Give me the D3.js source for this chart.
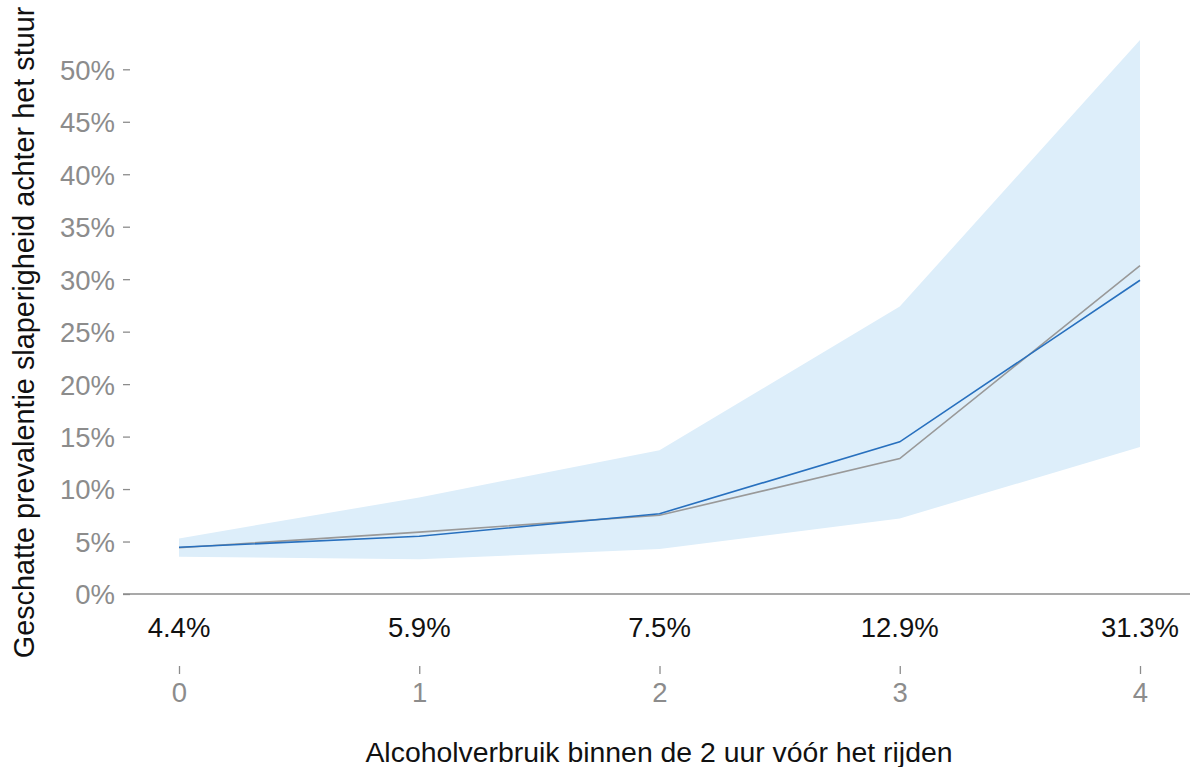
<!DOCTYPE html>
<html>
<head>
<meta charset="utf-8">
<script src="https://cdn.jsdelivr.net/npm/d3@7"></script>
<style>
  html, body { margin: 0; padding: 0; background: #fff; }
  svg { display: block; font-family: "Liberation Sans", Arial, sans-serif; }
</style>
</head>
<body>
<svg id="chart" width="1190" height="767"></svg>
<script>
// Drinks consumed in the 2 hours before driving
const drinks = [0, 1, 2, 3, 4];
// Observed prevalence (%) per category, also printed above the axis
const observed = [4.4, 5.9, 7.5, 12.9, 31.3];
const observedLabels = ["4.4%", "5.9%", "7.5%", "12.9%", "31.3%"];
// Model estimate (%) with lower / upper confidence bounds
const estimate = [4.45, 5.5, 7.65, 14.5, 29.9];
const lower = [3.55, 3.3, 4.3, 7.2, 14.0];
const upper = [5.3, 9.2, 13.7, 27.4, 52.8];
// Y-axis tick values (%)
const yTicks = [0, 5, 10, 15, 20, 25, 30, 35, 40, 45, 50];

const svg = d3.select("#chart");

const x = d3.scaleLinear().domain([0, 4]).range([179, 1140]);
const y = d3.scaleLinear().domain([0, 50]).range([594, 69.3]);

const rows = drinks.map((d, i) => ({
  d, obs: observed[i], est: estimate[i], lo: lower[i], hi: upper[i], lab: observedLabels[i]
}));

// Confidence band
svg.append("path")
  .datum(rows)
  .attr("fill", "#ddeefa")
  .attr("d", d3.area().x(r => x(r.d)).y0(r => y(r.lo)).y1(r => y(r.hi)));

// Observed line (grey)
svg.append("path")
  .datum(rows)
  .attr("fill", "none")
  .attr("stroke", "#999999")
  .attr("stroke-width", 1.6)
  .attr("d", d3.line().x(r => x(r.d)).y(r => y(r.obs)));

// Estimated line (blue)
svg.append("path")
  .datum(rows)
  .attr("fill", "none")
  .attr("stroke", "#2870be")
  .attr("stroke-width", 1.6)
  .attr("d", d3.line().x(r => x(r.d)).y(r => y(r.est)));

// Y axis: tick marks and percentage labels
const yAxis = d3.axisLeft(y).tickValues(yTicks).tickFormat(v => v + "%").tickSize(7).tickPadding(8);
const gy = svg.append("g").attr("transform", "translate(130,0)").call(yAxis);
gy.select(".domain").remove();
gy.selectAll(".tick line").attr("stroke", "#8c8c8c").attr("stroke-width", 1.3);
gy.selectAll(".tick text")
  .attr("fill", "#8c8c8c")
  .attr("dy", "0.36em")
  .style("font-size", "27.5px")
  .style("font-family", "Liberation Sans, Arial, sans-serif");

// Baseline at 0%
svg.append("line")
  .attr("x1", 123).attr("x2", 1190)
  .attr("y1", y(0)).attr("y2", y(0))
  .attr("stroke", "#8c8c8c").attr("stroke-width", 1.6);

// Observed percentages printed under the baseline
svg.append("g").selectAll("text")
  .data(rows)
  .join("text")
  .attr("x", r => x(r.d))
  .attr("y", 637)
  .attr("text-anchor", "middle")
  .attr("fill", "#111")
  .style("font-size", "27.5px")
  .text(r => r.lab);

// X axis: drink count ticks
const xAxis = d3.axisBottom(x).tickValues(drinks).tickFormat(d3.format("d")).tickSize(8).tickPadding(8);
const gx = svg.append("g").attr("transform", "translate(0,666)").call(xAxis);
gx.select(".domain").remove();
gx.selectAll(".tick line").attr("stroke", "#8c8c8c").attr("stroke-width", 1.3);
gx.selectAll(".tick text")
  .attr("fill", "#8c8c8c")
  .attr("y", 36).attr("dy", null)
  .style("font-size", "27.5px")
  .style("font-family", "Liberation Sans, Arial, sans-serif");

// Axis titles
svg.append("text")
  .attr("x", 659).attr("y", 762)
  .attr("text-anchor", "middle")
  .attr("fill", "#111")
  .style("font-size", "28.4px")
  .text("Alcoholverbruik binnen de 2 uur vóór het rijden");

svg.append("text")
  .attr("transform", "translate(33.5,332.5) rotate(-90)")
  .attr("text-anchor", "middle")
  .attr("fill", "#111")
  .style("font-size", "28.8px")
  .text("Geschatte prevalentie slaperigheid achter het stuur");
</script>
</body>
</html>
